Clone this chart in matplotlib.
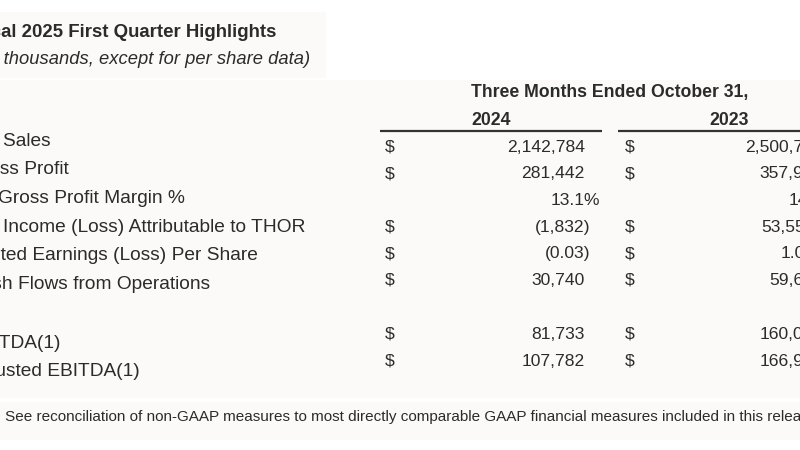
import matplotlib
matplotlib.use("Agg")
import matplotlib.pyplot as plt
from matplotlib.patches import Rectangle

# table content
title = "Fiscal 2025 First Quarter Highlights"
subtitle = "(In thousands, except for per share data)"
period_header = "Three Months Ended October 31,"
years = ["2024", "2023"]
row_labels = ["Net Sales", "Gross Profit", "Gross Profit Margin %",
              "Net Income (Loss) Attributable to THOR",
              "Diluted Earnings (Loss) Per Share",
              "Cash Flows from Operations",
              "EBITDA(1)", "Adjusted EBITDA(1)"]
row_kinds = ["money", "money", "pct", "money", "eps", "money", "money", "money"]
values_2024 = [2142784, 281442, 13.1, -1832, -0.03, 30740, 81733, 107782]
values_2023 = [2500738, 357945, 14.3, 53550, 1.00, 59630, 160040, 166946]
footnote = ("(1) See reconciliation of non-GAAP measures to most directly "
            "comparable GAAP financial measures included in this release.")

plt.rcParams['font.family'] = ['Liberation Sans', 'DejaVu Sans']
TXT = '#2b2b2b'
LABEL_FS = 13.8
NUM_FS = 12.6


def fmt(v, kind):
    # returns (body, hanging suffix)
    if kind == "pct":
        return "%.1f" % v, "%"
    s = "{:,.2f}".format(abs(v)) if kind == "eps" else "{:,.0f}".format(abs(v))
    if v < 0:
        return "(" + s, ")"
    return s, ""


def text_width(ax, s, **kw):
    t = ax.text(0, 0, s, **kw)
    w = t.get_window_extent(renderer=ax.figure.canvas.get_renderer()).width
    t.remove()
    return w


fig = plt.figure(figsize=(8, 4.5), dpi=100)
fig.patch.set_facecolor('white')
ax = fig.add_axes([0, 0, 1, 1])
ax.set_xlim(0, 800)
ax.set_ylim(450, 0)
ax.axis('off')

# faint page panels
bg = '#fbfaf8'
ax.add_patch(Rectangle((0, 12), 326, 66, color=bg, lw=0, zorder=0))
ax.add_patch(Rectangle((0, 80), 800, 318, color=bg, lw=0, zorder=0))
ax.add_patch(Rectangle((0, 402), 800, 38, color=bg, lw=0, zorder=0))

ax.text(276, 37.3, title, ha='right', va='baseline', fontsize=13.4,
        fontweight='bold', color=TXT)
ax.text(310, 64, subtitle, ha='right', va='baseline', fontsize=13.2,
        style='italic', color=TXT)

ax.text(610, 97, period_header, ha='center', va='baseline', fontsize=12.7,
        fontweight='bold', color=TXT)
year_cx = [491, 729]
for cx, yr in zip(year_cx, years):
    ax.text(cx, 125, yr, ha='center', va='baseline', fontsize=12.7,
            fontweight='bold', color=TXT)
ax.plot([379.5, 601.7], [131.3, 131.3], color='#333333', lw=1.6,
        solid_capstyle='butt')
ax.plot([618.3, 830], [131.3, 131.3], color='#333333', lw=1.6,
        solid_capstyle='butt')

# row baselines (labels and figures sit on slightly different grids)
label_y = [145.7, 174.4, 203.1, 231.8, 260.5, 289.2, 348.4, 376.0]
value_y = [151.9, 178.5, 205.1, 231.7, 258.3, 284.9, 338.9, 365.5]

# labels share a left edge that lies off the page; place it so that
# "Income" in the fourth row starts just inside the page
full = text_width(ax, row_labels[3], fontsize=LABEL_FS)
tail = text_width(ax, row_labels[3].split(" ", 1)[1], fontsize=LABEL_FS)
label_x = 3 - (full - tail)
indent_x = -2.5

for i, lab in enumerate(row_labels):
    x = indent_x if row_kinds[i] == "pct" else label_x
    ax.text(x, label_y[i], lab, ha='left', va='baseline', fontsize=LABEL_FS,
            color=TXT)

dollar_x = [385, 624.3]
num_right = [585, 823]
# rows where the other column carries a bracketed figure sit a bit further left
has_neg = [any(v < 0 for v in pair) for pair in zip(values_2024, values_2023)]
for col, vals in enumerate([values_2024, values_2023]):
    for i, v in enumerate(vals):
        kind = row_kinds[i]
        body, suf = fmt(v, kind)
        y = value_y[i]
        xr = num_right[col] - (8 if (has_neg[i] and v >= 0) else 0)
        if kind != "pct":
            ax.text(dollar_x[col], y, "$", ha='left', va='baseline',
                    fontsize=NUM_FS, color=TXT)
        # digits line up on xr; a closing bracket or % hangs past it
        hang = 0
        if suf:
            hang = (text_width(ax, body + suf, fontsize=NUM_FS)
                    - text_width(ax, body, fontsize=NUM_FS))
        ax.text(xr + hang, y, body + suf, ha='right', va='baseline',
                fontsize=NUM_FS, color=TXT)

# footnote: "See" starts just inside the left edge
prefix = text_width(ax, "(1) ", fontsize=11)
ax.text(5 - prefix, 421, footnote, ha='left', va='baseline', fontsize=11,
        color=TXT)

fig.savefig("out.png", dpi=100, facecolor=fig.get_facecolor())
